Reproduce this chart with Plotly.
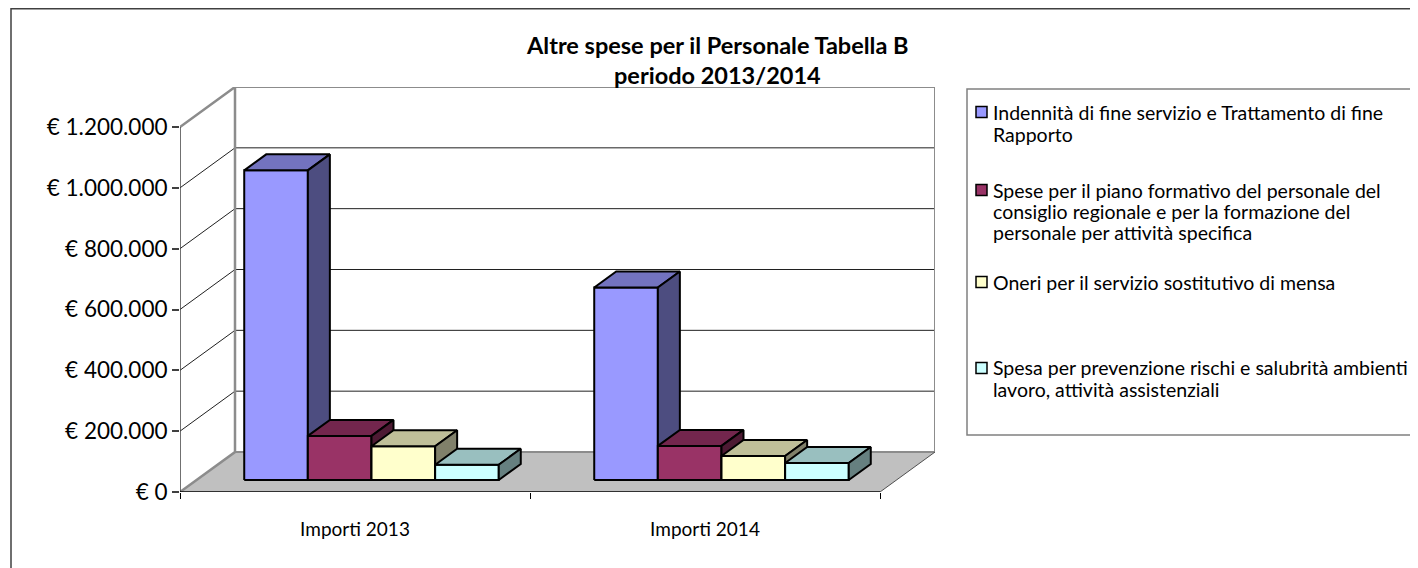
import plotly.graph_objects as go

# ---------------- data ----------------
categories = ["Importi 2013", "Importi 2014"]
series_names = [
    "Indennità di fine servizio e Trattamento di fine Rapporto",
    "Spese per il piano formativo del personale del consiglio regionale e per la formazione del personale per attività specifica",
    "Oneri per il servizio sostitutivo di mensa",
    "Spesa per prevenzione rischi e salubrità ambienti di lavoro, attività assistenziali",
]
# legend text as wrapped (and visible) in the original
legend_lines = [
    ["Indennità di fine servizio e Trattamento di fine", "Rapporto"],
    ["Spese per il piano formativo del personale del", "consiglio regionale e per la formazione del", "personale per attività specifica"],
    ["Oneri per il servizio sostitutivo di mensa"],
    ["Spesa per prevenzione rischi e salubrità ambienti", "lavoro, attività assistenziali"],
]
values_2013 = [1018000, 145000, 111000, 50000]
values_2014 = [633000, 112000, 79000, 56000]
values = [values_2013, values_2014]

y_tick_values = [0, 200000, 400000, 600000, 800000, 1000000, 1200000]
y_tick_labels = ["€ 0", "€ 200.000", "€ 400.000", "€ 600.000", "€ 800.000", "€ 1.000.000", "€ 1.200.000"]

title_lines = ["Altre spese per il Personale Tabella B", "periodo 2013/2014"]

front_colors = ["#9999FF", "#993366", "#FFFFCC", "#CCFFFF"]
top_colors = ["#7373BF", "#73264D", "#BFBF99", "#99BFBF"]
side_colors = ["#4D4D80", "#4D1A33", "#80806A", "#668080"]

# ---------------- geometry (pixels of the page) ----------------
PAGE_OFF = 8                              # default body margin of the html page
W, H = 1418 - PAGE_OFF, 568 - PAGE_OFF
PL, PR, PT, PB = 180, 935, 87, 492       # plot area box (page pixels)
FRONT_TOP_PX = 127                        # where the top tick sits on the front axis
WALL_DX_PX, WALL_DY_PX = 55, 40          # oblique depth offset

YTOP = y_tick_values[-1]
val_per_px = YTOP / (PB - FRONT_TOP_PX)
DY = WALL_DY_PX * val_per_px
ncat = len(categories)
cat_per_px = 1.0 / 350.0
DX = WALL_DX_PX * cat_per_px
XMAX = ncat + DX
YMAX = YTOP + DY

GAP_WIDTH = 1.5
NS = len(series_names)
BAR_W = 1.0 / (NS + GAP_WIDTH)
F0, F1 = 0.3, 0.7   # depth fractions of bar front / back

FONT = "Lato"


def px2paper_x(px):
    return (px - PL) / (PR - PL)


def px2paper_y(py):
    return (PB - py) / (PB - PT)


def P(x, v, f):
    return (x + f * DX, v + f * DY)


fig = go.Figure()


def poly(points, fill, color="black", width=2.0):
    xs = [p[0] for p in points] + [points[0][0]]
    ys = [p[1] for p in points] + [points[0][1]]
    fig.add_trace(go.Scatter(x=xs, y=ys, mode="lines", fill="toself", fillcolor=fill,
                             line=dict(color=color, width=width), hoverinfo="skip",
                             showlegend=False))


def seg(points, color, width):
    fig.add_trace(go.Scatter(x=[p[0] for p in points], y=[p[1] for p in points], mode="lines",
                             line=dict(color=color, width=width), hoverinfo="skip",
                             showlegend=False))


WALL = "#8C8C8C"
GRID = "#202020"

# back wall and side wall (white)
poly([P(0, 0, 1), P(ncat, 0, 1), P(ncat, YTOP, 1), P(0, YTOP, 1)], "white", WALL, 0.01)
poly([P(0, 0, 0), P(0, 0, 1), P(0, YTOP, 1), P(0, YTOP, 0)], "white", WALL, 0.01)
# floor
poly([P(0, 0, 0), P(ncat, 0, 0), P(ncat, 0, 1), P(0, 0, 1)], "#C0C0C0", "#A0A0A0", 0.01)

# gridlines
for v in y_tick_values[1:-1]:
    seg([P(0, v, 0), P(0, v, 1), P(ncat, v, 1)], GRID, 1)

# wall outlines
seg([P(0, 0, 0), P(0, 0, 1), P(0, YTOP, 1), P(0, YTOP, 0)], WALL, 2.5)
seg([P(0, YTOP, 1), P(ncat, YTOP, 1), P(ncat, 0, 1), P(0, 0, 1)], WALL, 2.0)
seg([P(ncat, 0, 0), P(ncat, 0, 1)], "#505050", 1)

# front axes lines
seg([P(0, 0, 0), P(0, YTOP, 0)], "#404040", 1.5)
seg([P(0, 0, 0), P(ncat, 0, 0)], "black", 1.5)

# bars
for c in range(ncat):
    x0 = c + GAP_WIDTH * BAR_W / 2
    for s in range(NS):
        v = values[c][s]
        xl = x0 + s * BAR_W
        xr = xl + BAR_W
        poly([P(xl, 0, F0), P(xr, 0, F0), P(xr, v, F0), P(xl, v, F0)], front_colors[s])
        poly([P(xl, v, F0), P(xr, v, F0), P(xr, v, F1), P(xl, v, F1)], top_colors[s])
        poly([P(xr, 0, F0), P(xr, 0, F1), P(xr, v, F1), P(xr, v, F0)], side_colors[s])

shapes = []
annotations = []

# outer chart border
shapes.append(dict(type="rect", xref="paper", yref="paper",
                   x0=px2paper_x(11), x1=px2paper_x(1440), y0=px2paper_y(590), y1=px2paper_y(8.8),
                   line=dict(color="#404040", width=1.5), fillcolor="rgba(0,0,0,0)", layer="below"))

# legend box
shapes.append(dict(type="rect", xref="paper", yref="paper",
                   x0=px2paper_x(967), x1=px2paper_x(1440), y0=px2paper_y(435), y1=px2paper_y(89),
                   line=dict(color="#808080", width=1.5), fillcolor="white", layer="below"))

legend_line_y = [[112, 134], [190, 211, 232], [282], [368, 389]]
for s in range(NS):
    yc = legend_line_y[s][0]
    shapes.append(dict(type="rect", xref="paper", yref="paper",
                       x0=px2paper_x(976), x1=px2paper_x(987), y0=px2paper_y(yc + 5.5), y1=px2paper_y(yc - 5.5),
                       line=dict(color="black", width=1.5), fillcolor=front_colors[s]))
    for line, ly in zip(legend_lines[s], legend_line_y[s]):
        annotations.append(dict(text=line, xref="paper", yref="paper", x=px2paper_x(991), y=px2paper_y(ly),
                                xanchor="left", yanchor="middle", showarrow=False,
                                font=dict(family=FONT, size=19.5, color="black")))

for t, ty in zip(title_lines, [45, 75]):
    annotations.append(dict(text="<b>" + t + "</b>", xref="paper", yref="paper", x=px2paper_x(717), y=px2paper_y(ty),
                            xanchor="center", yanchor="middle", showarrow=False,
                            font=dict(family=FONT, size=23.5, color="black")))

fig.update_layout(
    width=W, height=H,
    margin=dict(l=PL - PAGE_OFF, r=W - (PR - PAGE_OFF), t=PT - PAGE_OFF, b=H - (PB - PAGE_OFF), pad=0),
    paper_bgcolor="white", plot_bgcolor="white",
    showlegend=False,
    shapes=shapes, annotations=annotations,
    xaxis=dict(range=[0, XMAX], showgrid=False, zeroline=False, showline=False,
               tickmode="array", tickvals=[c + 0.5 for c in range(ncat)], ticktext=categories,
               ticks="outside", ticklen=0, ticklabelstandoff=20,
               tickfont=dict(family=FONT, size=19, color="black"),
               minor=dict(tickmode="array", tickvals=list(range(ncat + 1)), ticks="outside",
                          ticklen=6, tickcolor="black", tickwidth=1, showgrid=False),
               fixedrange=True),
    yaxis=dict(range=[0, YMAX], showgrid=False, zeroline=False, showline=False,
               tickmode="array", tickvals=y_tick_values, ticktext=y_tick_labels,
               ticks="outside", ticklen=7, tickcolor="#404040", tickwidth=1.5,
               ticklabelstandoff=0,
               tickfont=dict(family=FONT, size=22.5, color="black"),
               fixedrange=True),
)

fig.write_html("out.html")
